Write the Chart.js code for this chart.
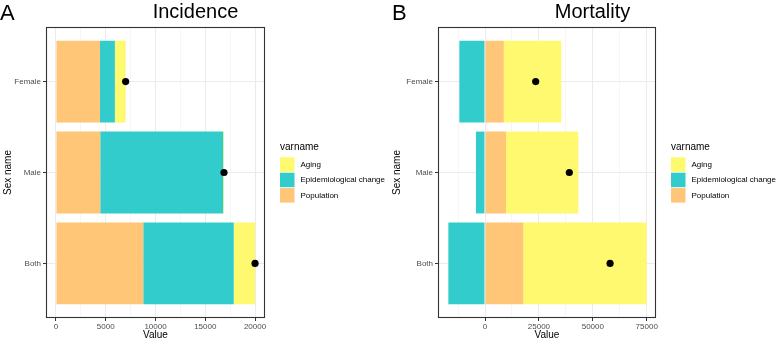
<!DOCTYPE html>
<html>
<head>
<meta charset="utf-8">
<script src="https://cdn.jsdelivr.net/npm/chart.js@4.4.1/dist/chart.umd.min.js"></script>
<style>
  html, body { margin: 0; padding: 0; background: #ffffff; }
  #wrap { position: relative; width: 778px; height: 341px; overflow: hidden; }
  canvas { position: absolute; top: 0; }
  #cA { left: 0; }
  #cB { left: 389px; }
</style>
</head>
<body>
<div id="wrap">
  <canvas id="cA" width="389" height="341"></canvas>
  <canvas id="cB" width="389" height="341"></canvas>
</div>
<script>
// ---------------- DATA ----------------
const categories = ['Female', 'Male', 'Both'];
const seriesNames = ['Population', 'Epidemiological change', 'Aging'];
const legendOrder = ['Aging', 'Epidemiological change', 'Population'];

// Panel A: Incidence
const incPopulation = [4420, 4450, 8770];
const incEpidemiological = [1500, 12350, 9090];
const incAging = [1080, 80, 2140];
const incTotal = [7000, 16880, 20000];
const incTicks = [0, 5000, 10000, 15000, 20000];

// Panel B: Mortality
const morPopulation = [8700, 9750, 17800];
const morEpidemiological = [-11900, -4200, -17000];
const morAging = [26700, 33550, 57200];
const morTotal = [23500, 39100, 58000];
const morTicks = [0, 25000, 50000, 75000];

// ---------------- STYLE ----------------
const COLORS = {
  'Aging': '#FFF970',
  'Epidemiological change': '#33CCCC',
  'Population': '#FFC677'
};
const FONT = 'Liberation Sans, Arial, Helvetica, sans-serif';

function pts(vals) {
  return vals.map((v, i) => ({ x: v, y: i + 1 }));
}

function makePanel(canvasId, cfg) {
  const majors = cfg.ticks;
  const step = majors[1] - majors[0];
  const half = step / 2;
  const tickVals = [];
  const start = Math.ceil(cfg.xMin / half) * half;
  for (let v = start; v <= cfg.xMax; v += half) tickVals.push(v);
  const isMajor = v => majors.indexOf(v) !== -1;

  const decor = {
    id: 'decor',
    afterDraw(chart) {
      const ctx = chart.ctx;
      const a = chart.chartArea;
      ctx.save();
      // panel border
      ctx.strokeStyle = '#333333';
      ctx.lineWidth = 1.1;
      ctx.strokeRect(a.left + 0.5, a.top + 0.5, a.right - a.left - 1, a.bottom - a.top - 1);
      // panel letter
      ctx.fillStyle = '#000000';
      ctx.textBaseline = 'alphabetic';
      ctx.textAlign = 'left';
      ctx.font = '22px ' + FONT;
      ctx.fillText(cfg.letter, cfg.letterX, 19.5);
      // title
      ctx.font = '20px ' + FONT;
      ctx.textAlign = 'center';
      ctx.fillText(cfg.title, cfg.titleX, 17.5);
      // legend
      const lx = a.right + 15;
      ctx.textAlign = 'left';
      ctx.textBaseline = 'middle';
      ctx.font = '10px ' + FONT;
      ctx.fillText('varname', lx, 147.5);
      ctx.font = '8px ' + FONT;
      legendOrder.forEach((name, i) => {
        const y0 = 157.3 + i * 15.4;
        ctx.fillStyle = COLORS[name];
        ctx.fillRect(lx, y0, 14.5, 14.5);
        ctx.fillStyle = '#000000';
        ctx.fillText(name, lx + 20.5, y0 + 7.5);
      });
      ctx.restore();
    }
  };

  const datasets = [
    { type: 'bar', label: 'Population', data: pts(cfg.pop), backgroundColor: COLORS['Population'], stack: 'bars', order: 1 },
    { type: 'bar', label: 'Epidemiological change', data: pts(cfg.epi), backgroundColor: COLORS['Epidemiological change'], stack: 'bars', order: 1 },
    { type: 'bar', label: 'Aging', data: pts(cfg.aging), backgroundColor: COLORS['Aging'], stack: 'bars', order: 1 },
    { type: 'scatter', label: 'Total', data: pts(cfg.total), backgroundColor: '#000000', borderColor: '#000000',
      borderWidth: 0, pointRadius: 3.6, pointHoverRadius: 3.6, stack: 'dots', order: 0 }
  ];

  return new Chart(document.getElementById(canvasId), {
    type: 'bar',
    data: { datasets },
    plugins: [decor],
    options: {
      responsive: false,
      animation: false,
      indexAxis: 'y',
      layout: { padding: { left: 0, right: cfg.padRight, top: 27, bottom: 0 } },
      plugins: { legend: { display: false }, tooltip: { enabled: false }, title: { display: false } },
      datasets: { bar: { barPercentage: 0.9, categoryPercentage: 1.0 } },
      scales: {
        x: {
          type: 'linear',
          stacked: true,
          offset: false,
          min: cfg.xMin,
          max: cfg.xMax,
          afterBuildTicks: s => { s.ticks = tickVals.map(v => ({ value: v })); },
          afterFit: s => { s.height = 23; },
          border: { display: false },
          grid: {
            offset: false,
            color: c => (c.tick && isMajor(c.tick.value)) ? '#EBEBEB' : '#F2F2F2',
            lineWidth: c => (c.tick && isMajor(c.tick.value)) ? 1 : 0.7,
            tickColor: c => (c.tick && isMajor(c.tick.value)) ? '#333333' : 'rgba(0,0,0,0)',
            tickLength: 3,
            drawTicks: true
          },
          ticks: {
            autoSkip: false,
            maxRotation: 0,
            padding: 1,
            color: '#4D4D4D',
            font: { family: FONT, size: 8 },
            callback: v => isMajor(v) ? String(v) : ''
          },
          title: {
            display: true,
            text: 'Value',
            color: '#000000',
            font: { family: FONT, size: 10 },
            padding: { top: 0, bottom: 0 }
          }
        },
        y: {
          type: 'linear',
          reverse: true,
          offset: false,
          min: 0.4,
          max: 3.6,
          afterBuildTicks: s => { s.ticks = categories.map((c, i) => ({ value: i + 1 })); },
          afterFit: s => { s.width = cfg.yWidth; },
          border: { display: false },
          grid: {
            offset: false,
            color: '#EBEBEB',
            lineWidth: 1,
            tickColor: '#333333',
            tickLength: 3,
            drawTicks: true
          },
          ticks: {
            autoSkip: false,
            padding: 2,
            color: '#4D4D4D',
            font: { family: FONT, size: 8 },
            callback: v => categories[Math.round(v) - 1] || ''
          },
          title: {
            display: true,
            text: 'Sex name',
            color: '#000000',
            font: { family: FONT, size: 10 },
            padding: { top: 2, bottom: 0 }
          }
        }
      }
    }
  });
}

makePanel('cA', {
  letter: 'A', letterX: 0, title: 'Incidence', titleX: 195.5,
  pop: incPopulation, epi: incEpidemiological, aging: incAging, total: incTotal,
  ticks: incTicks, xMin: -1000, xMax: 21000, yWidth: 46, padRight: 124
});
makePanel('cB', {
  letter: 'B', letterX: 3, title: 'Mortality', titleX: 203.5,
  pop: morPopulation, epi: morEpidemiological, aging: morAging, total: morTotal,
  ticks: morTicks, xMin: -21800, xMax: 79300, yWidth: 49, padRight: 122
});
</script>
</body>
</html>
